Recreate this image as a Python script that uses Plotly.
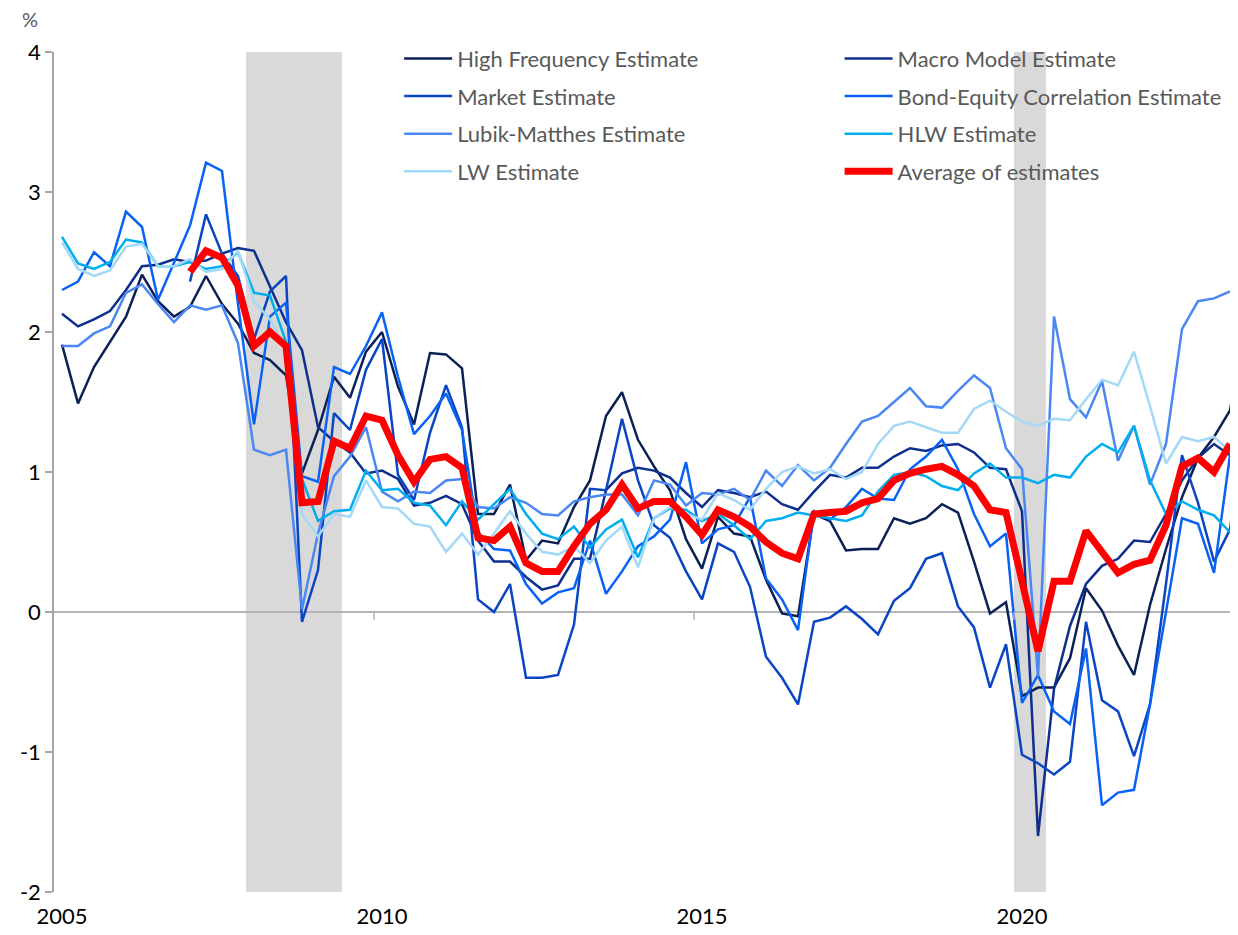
import plotly.graph_objects as go

# Quarterly observations, 2005Q1 = index 0
quarter_labels = [f"{2005 + i // 4}Q{i % 4 + 1}" for i in range(75)]
x_idx = list(range(75))

year_ticks = [0, 20, 40, 60]
year_labels = ["2005", "2010", "2015", "2020"]

high_frequency = [1.91, 1.49, 1.75, 1.93, 2.11, 2.41, 2.22, 2.11, 2.18, 2.40,
                  2.20, 2.06, 1.85, 1.80, 1.69, 0.99, 1.30, 1.68, 1.53, 1.86,
                  2.00, 1.61, 1.34, 1.85, 1.84, 1.74, 0.70, 0.70, 0.91, 0.37,
                  0.51, 0.49, 0.75, 0.94, 1.40, 1.57, 1.23, 1.04, 0.87, 0.52,
                  0.31, 0.68, 0.56, 0.54, 0.23, -0.01, -0.03, 0.70, 0.65, 0.44,
                  0.45, 0.45, 0.67, 0.63, 0.67, 0.77, 0.71, 0.36, -0.01, 0.07,
                  -0.60, -0.54, -0.54, -0.33, 0.17, 0.01, -0.24, -0.45, 0.05, 0.45,
                  0.82, 1.10, 1.25, 1.44, 2.10]

macro_model = [2.13, 2.04, 2.09, 2.15, 2.30, 2.47, 2.48, 2.52, 2.50, 2.51,
               2.56, 2.60, 2.58, 2.32, 2.07, 1.87, 1.32, 1.22, 1.14, 0.99,
               1.01, 0.95, 0.76, 0.78, 0.83, 0.77, 0.51, 0.36, 0.36, 0.25,
               0.16, 0.19, 0.38, 0.38, 0.87, 0.99, 1.03, 1.01, 0.96, 0.85,
               0.75, 0.87, 0.85, 0.82, 0.86, 0.77, 0.73, 0.86, 0.98, 0.96,
               1.03, 1.03, 1.11, 1.17, 1.15, 1.19, 1.20, 1.14, 1.03, 1.02,
               0.72, -1.60, -0.55, -0.10, 0.20, 0.33, 0.38, 0.51, 0.50, 0.70,
               0.94, 1.10, 1.20, 1.12]

market = [None] * 8 + [2.36, 2.84,
          2.56, 2.40, 1.95, 2.29, 2.40, -0.07, 0.30, 1.42, 1.30, 1.73,
          1.95, 0.98, 0.80, 1.28, 1.62, 1.32, 0.09, 0.00, 0.20, -0.47,
          -0.47, -0.45, -0.09, 0.88, 0.87, 1.38, 0.94, 0.62, 0.53, 0.29,
          0.09, 0.49, 0.43, 0.18, -0.32, -0.47, -0.66, -0.07, -0.04, 0.04,
          -0.05, -0.16, 0.08, 0.17, 0.38, 0.42, 0.04, -0.11, -0.54, -0.23,
          -1.02, -1.08, -1.16, -1.07, -0.07, -0.63, -0.71, -1.03, -0.66, 0.20,
          1.12, 0.78, 0.36, 0.59, 1.43]

bond_equity = [2.30, 2.36, 2.57, 2.47, 2.86, 2.75, 2.23, 2.50, 2.76, 3.21,
               3.15, 2.20, 1.34, 2.11, 2.21, 0.97, 0.93, 1.75, 1.70, 1.90,
               2.14, 1.68, 1.27, 1.40, 1.56, 1.30, 0.57, 0.45, 0.44, 0.20,
               0.06, 0.14, 0.17, 0.51, 0.13, 0.29, 0.47, 0.54, 0.66, 1.07,
               0.49, 0.59, 0.62, 0.82, 0.24, 0.09, -0.13, 0.72, 0.66, 0.75,
               0.88, 0.81, 0.80, 1.02, 1.11, 1.23, 1.02, 0.70, 0.47, 0.56,
               -0.65, -0.45, -0.71, -0.80, -0.26, -1.38, -1.29, -1.27, -0.66, 0.00,
               0.67, 0.63, 0.28, 1.12, 1.86]

lubik_matthes = [1.90, 1.90, 1.99, 2.04, 2.28, 2.34, 2.20, 2.07, 2.19, 2.16,
                 2.19, 1.92, 1.16, 1.12, 1.16, 0.02, 0.56, 0.97, 1.11, 1.32,
                 0.86, 0.79, 0.86, 0.85, 0.94, 0.95, 0.75, 0.74, 0.82, 0.78,
                 0.70, 0.69, 0.79, 0.82, 0.84, 0.84, 0.69, 0.94, 0.91, 0.76,
                 0.85, 0.84, 0.88, 0.80, 1.01, 0.90, 1.05, 0.94, 1.03, 1.20,
                 1.36, 1.40, 1.50, 1.60, 1.47, 1.46, 1.58, 1.69, 1.60, 1.17,
                 1.02, -0.46, 2.11, 1.52, 1.39, 1.65, 1.08, 1.33, 0.91, 1.20,
                 2.02, 2.22, 2.24, 2.29]

hlw = [2.68, 2.49, 2.45, 2.50, 2.66, 2.64, 2.47, 2.47, 2.50, 2.45,
       2.47, 2.57, 2.28, 2.26, 1.93, 0.95, 0.65, 0.72, 0.73, 1.01,
       0.87, 0.88, 0.78, 0.76, 0.62, 0.79, 0.66, 0.77, 0.88, 0.70,
       0.56, 0.52, 0.61, 0.46, 0.59, 0.66, 0.39, 0.67, 0.74, 0.73,
       0.65, 0.70, 0.62, 0.52, 0.65, 0.67, 0.71, 0.69, 0.67, 0.65,
       0.69, 0.86, 0.98, 1.00, 0.97, 0.90, 0.87, 0.99, 1.06, 0.96,
       0.96, 0.92, 0.98, 0.96, 1.11, 1.20, 1.14, 1.33, 0.94, 0.70,
       0.79, 0.73, 0.69, 0.57]

lw = [2.64, 2.45, 2.40, 2.44, 2.61, 2.63, 2.47, 2.47, 2.52, 2.43,
      2.45, 2.58, 2.22, 2.09, 1.88, 0.70, 0.54, 0.70, 0.68, 0.94,
      0.75, 0.74, 0.63, 0.61, 0.43, 0.56, 0.41, 0.56, 0.72, 0.56,
      0.43, 0.41, 0.47, 0.35, 0.51, 0.61, 0.32, 0.67, 0.75, 0.70,
      0.66, 0.85, 0.80, 0.73, 0.88, 1.00, 1.04, 0.99, 1.02, 0.95,
      1.00, 1.20, 1.33, 1.36, 1.32, 1.28, 1.28, 1.45, 1.51, 1.43,
      1.36, 1.33, 1.38, 1.37, 1.52, 1.66, 1.62, 1.86, 1.47, 1.06,
      1.25, 1.22, 1.25, 1.15]

average = [None] * 8 + [2.43, 2.58,
           2.53, 2.33, 1.90, 2.00, 1.90, 0.78, 0.79, 1.22, 1.17, 1.40,
           1.37, 1.12, 0.93, 1.09, 1.11, 1.03, 0.53, 0.51, 0.61, 0.35,
           0.29, 0.29, 0.47, 0.63, 0.73, 0.91, 0.74, 0.79, 0.79, 0.68,
           0.55, 0.73, 0.68, 0.61, 0.50, 0.42, 0.38, 0.70, 0.71, 0.72,
           0.78, 0.81, 0.94, 0.99, 1.02, 1.04, 0.98, 0.90, 0.73, 0.71,
           0.22, -0.28, 0.22, 0.22, 0.58, 0.43, 0.28, 0.34, 0.37, 0.62,
           1.04, 1.10, 1.00, 1.20]

recessions = [(11.5, 17.5), (59.5, 61.5)]
axis_tick_positions = [19.5, 39.5, 59.5]

series = [
    ("High Frequency Estimate", high_frequency, "#0B2156", 2.5, "legend"),
    ("Macro Model Estimate", macro_model, "#0E2F8C", 2.5, "legend2"),
    ("Market Estimate", market, "#0A45C4", 2.5, "legend"),
    ("Bond-Equity Correlation Estimate", bond_equity, "#0A62F5", 2.5, "legend2"),
    ("Lubik-Matthes Estimate", lubik_matthes, "#4B87F2", 2.5, "legend"),
    ("HLW Estimate", hlw, "#00AEEF", 2.5, "legend2"),
    ("LW Estimate", lw, "#A4D9F6", 2.5, "legend"),
    ("Average of estimates", average, "#FF0000", 7, "legend2"),
]

fig = go.Figure()
for name, vals, color, width, leg in series:
    fig.add_trace(go.Scatter(
        x=x_idx[:len(vals)], y=vals, name=name, mode="lines",
        line=dict(color=color, width=width),
        customdata=quarter_labels[:len(vals)],
        hovertemplate="%{customdata}: %{y:.2f}<extra>" + name + "</extra>",
        legend=leg, legendgroup=name, connectgaps=False,
    ))

shapes = []
for x0, x1 in recessions:
    shapes.append(dict(type="rect", xref="x", yref="y", x0=x0, x1=x1, y0=-2, y1=4,
                       fillcolor="#D9D9D9", line=dict(width=0), layer="below"))
for xp in axis_tick_positions:
    shapes.append(dict(type="line", xref="x", yref="y", x0=xp, x1=xp, y0=0, y1=-0.057,
                       line=dict(color="#B3B3B3", width=1.5), layer="above"))

legend_common = dict(
    orientation="v", yanchor="top", xanchor="left",
    bgcolor="rgba(0,0,0,0)", borderwidth=0,
    font=dict(family="Lato", size=22, color="#595959"),
    tracegroupgap=6, itemwidth=48, traceorder="grouped",
)

fig.update_layout(
    width=1238, height=935,
    margin=dict(l=46, r=8, t=44, b=51),
    plot_bgcolor="white", paper_bgcolor="white",
    font=dict(family="Lato", size=22, color="#000000"),
    shapes=shapes,
    showlegend=True,
    legend=dict(x=0.2915, y=1.017, **legend_common),
    legend2=dict(x=0.6635, y=1.017, **legend_common),
    xaxis=dict(range=[-0.5, 73.5], tickmode="array", tickvals=year_ticks, ticktext=year_labels,
               ticks="outside", ticklen=5, tickcolor="rgba(0,0,0,0)",
               showline=False, showgrid=False, zeroline=False, automargin=False,
               tickfont=dict(family="Lato", size=22, color="#000000")),
    yaxis=dict(range=[-2, 4], tickmode="array", tickvals=[-2, -1, 0, 1, 2, 3, 4],
               ticktext=["-2", "-1", "0", "1", "2", "3", "4"],
               ticks="outside", ticklen=7, tickcolor="#A6A6A6", tickwidth=1.5,
               showline=True, linecolor="#A6A6A6", linewidth=1.5,
               showgrid=False, zeroline=True, zerolinecolor="#B3B3B3", zerolinewidth=1.5,
               automargin=False,
               tickfont=dict(family="Lato", size=22, color="#000000")),
    annotations=[dict(text="%", xref="paper", yref="paper", x=-0.02, y=1.039,
                      xanchor="center", yanchor="middle", showarrow=False,
                      font=dict(family="Lato", size=20, color="#595959"))],
)

fig.write_html("out.html")
